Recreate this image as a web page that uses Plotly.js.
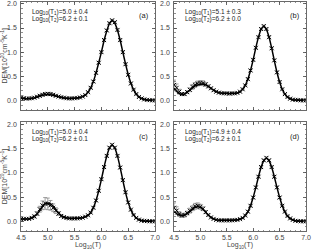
<!DOCTYPE html>
<html><head><meta charset="utf-8">
<script src="https://cdn.plot.ly/plotly-3.0.1.min.js"></script>
<style>html,body{margin:0;padding:0;background:#fff}#p{width:312px;height:251px}</style>
</head><body><div id="p"></div>
<script>
// log10(T) grid
const logT = [4.50,4.55,4.60,4.65,4.70,4.75,4.80,4.85,4.90,4.95,
              5.00,5.05,5.10,5.15,5.20,5.25,5.30,5.35,5.40,5.45,
              5.50,5.55,5.60,5.65,5.70,5.75,5.80,5.85,5.90,5.95,
              6.00,6.05,6.10,6.15,6.20,6.25,6.30,6.35,6.40,6.45,
              6.50,6.55,6.60,6.65,6.70,6.75,6.80,6.85,6.90,6.95,7.00];

// Panel (a)
const aLine = [0.05,0.04,0.035,0.035,0.04,0.05,0.07,0.09,0.105,0.115,
               0.12,0.115,0.105,0.09,0.075,0.06,0.05,0.045,0.04,0.042,
               0.044,0.048,0.058,0.078,0.11,0.17,0.26,0.39,0.57,0.78,
               1.0,1.24,1.44,1.59,1.65,1.60,1.455,1.246,1.0,0.756,
               0.536,0.356,0.223,0.131,0.072,0.038,0.018,0.008,0.004,0.001,0.0];
const aPts  = [0.055,0.045,0.035,0.04,0.045,0.055,0.075,0.095,0.115,0.13,
               0.135,0.13,0.115,0.095,0.08,0.065,0.055,0.045,0.04,0.04,
               0.045,0.05,0.06,0.08,0.11,0.17,0.26,0.39,0.57,0.78,
               1.0,1.25,1.45,1.60,1.66,1.62,1.46,1.25,1.0,0.75,
               0.53,0.35,0.22,0.13,0.07,0.04,0.02,0.01,0.005,0.0,0.0];
const aErr  = [0.01,0.01,0.01,0.01,0.01,0.015,0.02,0.025,0.03,0.03,
               0.03,0.03,0.025,0.02,0.015,0.01,0.01,0.01,0.01,0.01,
               0.01,0.01,0.01,0.01,0.01,0.01,0.015,0.02,0.02,0.02,
               0.02,0.02,0.02,0.02,0.02,0.02,0.02,0.02,0.02,0.02,
               0.02,0.015,0.01,0.01,0.01,0.01,0.01,0.01,0.01,0.01,0.01];

// Panel (b)
const bLine = [0.25,0.19,0.14,0.12,0.13,0.17,0.21,0.26,0.30,0.32,
               0.335,0.335,0.32,0.29,0.25,0.21,0.18,0.16,0.15,0.145,
               0.146,0.142,0.146,0.144,0.152,0.177,0.229,0.311,0.441,0.623,
               0.845,1.092,1.311,1.472,1.53,1.472,1.311,1.082,0.825,0.583,
               0.381,0.231,0.129,0.067,0.032,0.014,0.006,0.002,0.001,0.0,0.0];
const bPts  = [0.32,0.26,0.18,0.13,0.13,0.17,0.22,0.28,0.32,0.35,
               0.36,0.355,0.33,0.29,0.25,0.21,0.18,0.16,0.15,0.145,
               0.145,0.14,0.145,0.145,0.155,0.18,0.23,0.31,0.44,0.62,
               0.84,1.09,1.31,1.48,1.54,1.48,1.31,1.08,0.83,0.58,
               0.38,0.23,0.13,0.07,0.035,0.015,0.01,0.005,0.0,0.0,0.0];
const bErr  = [0.10,0.08,0.05,0.03,0.03,0.03,0.04,0.05,0.05,0.05,
               0.05,0.05,0.04,0.03,0.02,0.02,0.01,0.01,0.01,0.01,
               0.01,0.01,0.01,0.01,0.01,0.01,0.01,0.01,0.02,0.02,
               0.02,0.02,0.02,0.02,0.02,0.02,0.02,0.02,0.02,0.02,
               0.02,0.01,0.01,0.01,0.01,0.01,0.01,0.01,0.01,0.01,0.01];

// Panel (c)
const cLine = [0.05,0.05,0.05,0.055,0.07,0.10,0.15,0.22,0.30,0.36,
               0.38,0.36,0.31,0.24,0.17,0.12,0.09,0.07,0.065,0.06,
               0.061,0.062,0.066,0.075,0.093,0.124,0.183,0.282,0.431,0.628,
               0.866,1.12,1.345,1.51,1.57,1.51,1.345,1.11,0.846,0.598,
               0.391,0.237,0.133,0.069,0.033,0.015,0.006,0.002,0.001,0.0,0.0];
const cPts  = [0.05,0.05,0.05,0.05,0.07,0.10,0.16,0.25,0.33,0.37,
               0.36,0.33,0.28,0.22,0.16,0.11,0.085,0.07,0.06,0.06,
               0.06,0.06,0.065,0.075,0.095,0.125,0.18,0.28,0.43,0.63,
               0.87,1.12,1.35,1.52,1.58,1.52,1.35,1.11,0.85,0.60,
               0.39,0.24,0.13,0.07,0.035,0.015,0.01,0.005,0.0,0.0,0.0];
const cErr  = [0.01,0.01,0.01,0.01,0.02,0.03,0.04,0.06,0.09,0.12,
               0.12,0.10,0.08,0.06,0.04,0.03,0.02,0.02,0.01,0.01,
               0.01,0.01,0.01,0.01,0.01,0.01,0.01,0.02,0.02,0.02,
               0.02,0.02,0.02,0.02,0.02,0.02,0.02,0.02,0.02,0.02,
               0.02,0.01,0.01,0.01,0.01,0.01,0.01,0.01,0.01,0.01,0.01];

// Panel (d)
const dLine = [0.20,0.16,0.13,0.12,0.13,0.16,0.20,0.25,0.29,0.30,
               0.29,0.25,0.19,0.13,0.08,0.05,0.03,0.02,0.02,0.02,
               0.02,0.021,0.022,0.025,0.032,0.042,0.067,0.12,0.201,0.324,
               0.495,0.701,0.919,1.114,1.251,1.30,1.251,1.114,0.919,0.701,
               0.495,0.324,0.196,0.110,0.057,0.027,0.012,0.005,0.002,0.001,0.0];
const dPts  = [0.28,0.22,0.15,0.12,0.13,0.17,0.22,0.27,0.31,0.32,
               0.30,0.26,0.19,0.13,0.08,0.05,0.03,0.02,0.02,0.02,
               0.02,0.02,0.02,0.025,0.03,0.045,0.07,0.12,0.20,0.32,
               0.49,0.70,0.92,1.12,1.26,1.31,1.26,1.12,0.92,0.70,
               0.49,0.32,0.20,0.11,0.06,0.03,0.01,0.005,0.0,0.0,0.0];
const dErr  = [0.10,0.08,0.05,0.04,0.04,0.04,0.05,0.05,0.06,0.06,
               0.05,0.04,0.03,0.02,0.01,0.01,0.01,0.01,0.01,0.01,
               0.01,0.01,0.01,0.01,0.01,0.01,0.01,0.01,0.02,0.02,
               0.02,0.02,0.02,0.02,0.02,0.02,0.02,0.02,0.02,0.02,
               0.02,0.01,0.01,0.01,0.01,0.01,0.01,0.01,0.01,0.01,0.01];

const panelLabels = ['(a)','(b)','(c)','(d)'];
const t1Text = ['5.0 ± 0.4','5.1 ± 0.3','5.0 ± 0.4','4.9 ± 0.4'];
const t2Text = ['6.2 ± 0.1','6.2 ± 0.0','6.2 ± 0.1','6.2 ± 0.1'];
const xTicks = [4.5,5.0,5.5,6.0,6.5,7.0];
const xTickText = ['4.5','5.0','5.5','6.0','6.5','7.0'];
const yTicks = [0.0,0.5,1.0,1.5,2.0];
const yTickText = ['0.0','0.5','1.0','1.5','2.0'];

const panels = [[aLine,aPts,aErr],[bLine,bPts,bErr],[cLine,cPts,cErr],[dLine,dPts,dErr]];
const suf = ['','2','3','4'];
const traces = [];
panels.forEach((p,i)=>{
  const xa='x'+suf[i], ya='y'+suf[i];
  traces.push({x:logT,y:p[1],mode:'markers',xaxis:xa,yaxis:ya,
    marker:{symbol:'x-thin-open',size:4,color:'#000',line:{color:'#000',width:1}},
    error_y:{type:'data',array:p[2],visible:true,color:'#8a8a8a',thickness:0.8,width:2},
    hoverinfo:'skip'});
  traces.push({x:logT,y:p[0],mode:'lines',xaxis:xa,yaxis:ya,
    line:{color:'#000',width:1.5,shape:'spline',smoothing:0.6},hoverinfo:'skip'});
});

const FONT = 'Liberation Sans, Arial, sans-serif';
function xax(dom, anchor, labels){
  return {domain:dom,anchor:anchor,range:[4.5,7.0],tickmode:'array',tickvals:xTicks,ticktext:xTickText,
    showticklabels:labels,ticks:'inside',ticklen:3,tickwidth:0.8,tickcolor:'#444',ticklabeloverflow:'allow',
    minor:{dtick:0.1,tick0:4.5,ticks:'inside',ticklen:1.5,tickwidth:0.6,tickcolor:'#444',showgrid:false},
    showline:true,linecolor:'#444',linewidth:0.8,mirror:'allticks',showgrid:false,zeroline:false,
    tickfont:{family:FONT,size:7,color:'#444'},
    title:labels?{text:'Log<sub>10</sub>(T)',font:{family:FONT,size:7,color:'#444'},standoff:1}:{text:''}};
}
function yax(dom, anchor, title){
  return {domain:dom,anchor:anchor,range:[-0.2,2.05],tickmode:'array',tickvals:yTicks,ticktext:yTickText,
    ticks:'inside',ticklen:3,tickwidth:0.8,tickcolor:'#444',ticklabeloverflow:'allow',
    minor:{dtick:0.1,tick0:0,ticks:'inside',ticklen:1.5,tickwidth:0.6,tickcolor:'#444',showgrid:false},
    showline:true,linecolor:'#444',linewidth:0.8,mirror:'allticks',showgrid:false,zeroline:false,
    tickfont:{family:FONT,size:7,color:'#444'},ticklabelstandoff:2,
    title:title?{text:'DEM[10<sup>20</sup>cm<sup>-5</sup>K<sup>-1</sup>]',font:{family:FONT,size:7,color:'#444'},standoff:2}:{text:''}};
}
const W=312,H=251,PW=306;
const xL=[21/PW,155/PW], xR=[174/PW,1.0];
const yT=[1-110/H,1-1.5/H], yB=[1-231/H,1-122/H];

const annotations=[];
panelLabels.forEach((lab,i)=>{
  const xr='x'+suf[i]+' domain', yr='y'+suf[i]+' domain';
  annotations.push({xref:xr,yref:yr,x:0.065,y:0.905,xanchor:'left',yanchor:'middle',showarrow:false,
    text:'Log<sub>10</sub>(T<sub>1</sub>)='+t1Text[i],font:{family:FONT,size:6.5,color:'#222'}});
  annotations.push({xref:xr,yref:yr,x:0.065,y:0.84,xanchor:'left',yanchor:'middle',showarrow:false,
    text:'Log<sub>10</sub>(T<sub>2</sub>)='+t2Text[i],font:{family:FONT,size:6.5,color:'#222'}});
  annotations.push({xref:xr,yref:yr,x:0.915,y:0.87,xanchor:'center',yanchor:'middle',showarrow:false,
    text:lab,font:{family:FONT,size:7.5,color:'#222'}});
});

const layout={width:W,height:H,margin:{l:0,r:W-PW,t:0,b:0,pad:0},showlegend:false,
  paper_bgcolor:'#fff',plot_bgcolor:'#fff',
  xaxis:xax(xL,'y',false), yaxis:yax(yT,'x',true),
  xaxis2:xax(xR,'y2',false), yaxis2:yax(yT,'x2',false),
  xaxis3:xax(xL,'y3',true), yaxis3:yax(yB,'x3',true),
  xaxis4:xax(xR,'y4',true), yaxis4:yax(yB,'x4',false),
  annotations:annotations};
Plotly.newPlot('p',traces,layout,{staticPlot:true,displayModeBar:false});
</script></body></html>
